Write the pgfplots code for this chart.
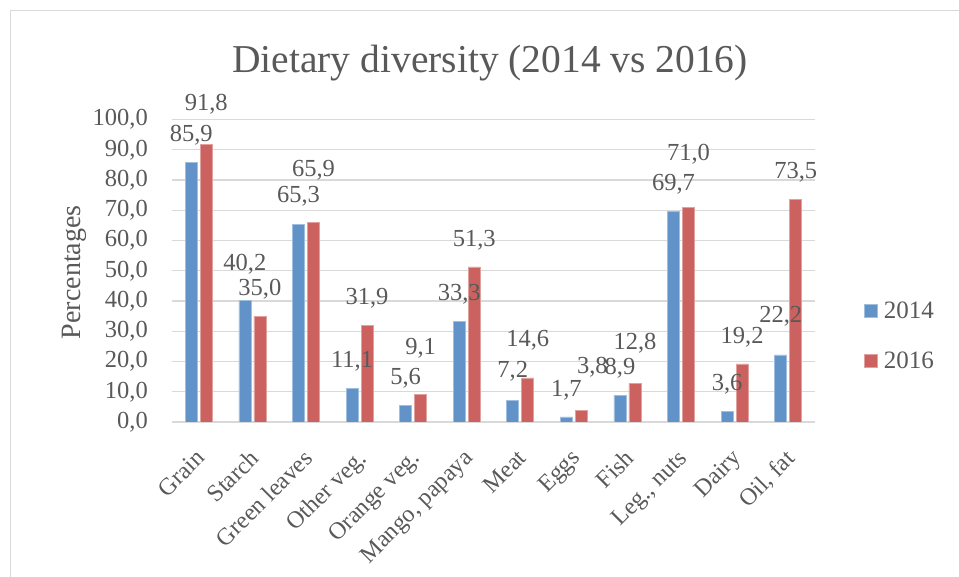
\documentclass[border=0pt]{standalone}
\usepackage{pgfplots}
\pgfplotsset{compat=1.18}
\usepackage{pgfplotstable}
\usepackage{fontspec}
\setmainfont{Liberation Serif}

\definecolor{bluebar}{HTML}{6192C8}
\definecolor{redbar}{HTML}{CB625F}
\definecolor{txt}{HTML}{595959}
\definecolor{gridc}{HTML}{D9D9D9}

% x = category index, v = share (%), dy/dx = label offset above the bar top (pt)
\pgfplotstableread{
x  v     dy    dx
0  85.9  27    0
1  40.2  36    0
2  65.3  28    0
3  11.1  27    0
4  5.6   27    0
5  33.3  27    0
6  7.2   29    0
7  1.7   27    0
8  8.9   27    0
9  69.7  27    0
10 3.6   27    0
11 22.2  38.5  0
}\yearA

\pgfplotstableread{
x  v     dy    dx
0  91.8  40    0
1  35.0  27    0
2  65.9  52    0
3  31.9  27.5  0
4  9.1   46    0
5  51.3  27    0
6  14.6  38    0
7  3.8   43    11
8  12.8  40    0
9  71.0  53    0
10 19.2  27    0
11 73.5  27    0
}\yearB

\pgfplotsset{
  valuelabels/.style={
    nodes near coords={\pgfmathprintnumber[fixed, fixed zerofill, precision=1, use comma, assume math mode=true]{\pgfplotspointmeta}},
    visualization depends on={\thisrow{dy} \as \labdy},
    visualization depends on={\thisrow{dx} \as \labdx},
    nodes near coords style={anchor=center, inner sep=0pt, text=txt,
      yshift=\labdy pt, xshift=\labdx pt, font=\fontsize{24.5}{27}\selectfont},
  },
}

\begin{document}
\begin{tikzpicture}
\useasboundingbox (-172pt,-155pt) rectangle (787pt,422pt);
\draw[gridc, line width=1pt] (-161pt,-160pt) -- (-161pt,411pt) -- (800pt,411pt);
\begin{axis}[
  at={(0pt,0pt)}, anchor=south west,
  scale only axis, width=643pt, height=302.5pt,
  ybar=3pt, bar width=12pt,
  xmin=-0.5, xmax=11.5, ymin=0, ymax=100,
  xtick={0,...,11},
  xticklabels={Grain,Starch,Green leaves,Other veg.,Orange veg.,{Mango, papaya},Meat,Eggs,Fish,{Leg., nuts},Dairy,{Oil, fat}},
  ytick={0,10,...,100},
  major tick length=0pt,
  axis line style={draw=none},
  ymajorgrids, grid style={gridc, line width=1.3pt},
  font=\fontsize{24.5}{27}\selectfont,
  yticklabel style={inner sep=0pt, anchor=east, xshift=-24pt, text=txt,
    /pgf/number format/.cd, fixed, fixed zerofill, precision=1, use comma, assume math mode=true},
  xticklabel style={inner sep=0pt, text=txt, font=\fontsize{24}{27}\selectfont,
    xshift=-4pt, yshift=-26pt, rotate=45, anchor=north east},
  ylabel={Percentages},
  ylabel style={at={(axis description cs:-0.152,0.495)}, anchor=center, text=txt, font=\fontsize{28}{30}\selectfont},
  title={Dietary diversity (2014 vs 2016)},
  title style={at={(0.4946,1)}, anchor=base, yshift=40.5pt, text=txt, font=\fontsize{39.5}{44}\selectfont},
  legend style={draw=none, fill=none, at={(1,0.284)}, anchor=west, xshift=49pt,
    inner sep=0pt, row sep=32pt, nodes={inner sep=0pt, text=txt},
    font=\fontsize{25}{27}\selectfont,
    /tikz/every odd column/.append style={column sep=6pt}},
  legend cell align=left,
  legend image code/.code={\fill[#1] (0pt,-6.5pt) rectangle (13pt,6.5pt);},
]
\addplot[fill=bluebar, draw=bluebar!60!white, line width=0.6pt, valuelabels] table[x=x, y=v] {\yearA};
\addplot[fill=redbar, draw=redbar!60!white, line width=0.6pt, valuelabels] table[x=x, y=v] {\yearB};
\legend{2014,2016}
\end{axis}
\end{tikzpicture}
\end{document}
